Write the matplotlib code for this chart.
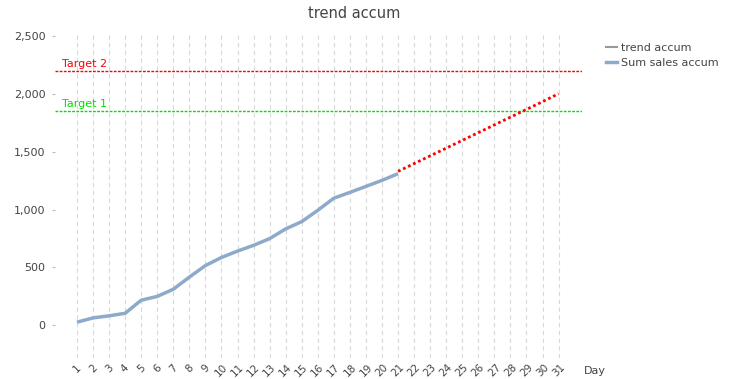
import matplotlib
matplotlib.use("Agg")
import matplotlib.pyplot as plt
from matplotlib.lines import Line2D

days = list(range(1, 32))
sales_days = list(range(1, 22))
sales_accum = [25, 62, 80, 102, 215, 248, 310, 415, 515, 585, 640, 690, 748, 832, 895, 993, 1098, 1148, 1200, 1252, 1310]
trend_days = list(range(21, 32))
trend_accum = [1330, 1397, 1464, 1531, 1598, 1665, 1732, 1799, 1866, 1933, 2002]
target1 = 1855
target2 = 2200
yticks = [0, 500, 1000, 1500, 2000, 2500]
ytick_labels = ["0", "500", "1,000", "1,500", "2,000", "2,500"]

fig = plt.figure(figsize=(7.39, 3.79), dpi=100)
ax = fig.add_axes([55/739, 1-358/379, (582-55)/739, (358-35)/379])

for d in days:
    ax.axvline(d, color="#d9d9d9", lw=0.8, dashes=(4, 3), zorder=0)

ax.axhline(target2, color="#ff0000", lw=1.0, dashes=(2, 1), zorder=1)
ax.axhline(target1, color="#00e000", lw=1.0, dashes=(2, 1), zorder=1)
ax.annotate("Target 2", (0.07, target2), xytext=(0, 1.5), textcoords="offset points",
            color="red", fontsize=8, ha="left", va="bottom")
ax.annotate("Target 1", (0.07, target1), xytext=(0, 1.5), textcoords="offset points",
            color="#00e000", fontsize=8, ha="left", va="bottom")

ax.plot(sales_days, sales_accum, color="#8eaacb", lw=2.5, solid_capstyle="butt", zorder=3)
ax.plot(trend_days, trend_accum, color="red", lw=2.0, linestyle=(0, (1, 1)),
        dash_capstyle="butt", zorder=4)

ax.set_xlim(-0.37, 32.46)
ax.set_ylim(-285, 2510)
ax.set_xticks(days)
ax.set_xticklabels([str(d) for d in days], rotation=45, ha="center", va="top",
                   fontsize=7.5, color="#444444")
ax.set_yticks(yticks)
ax.set_yticklabels(ytick_labels, fontsize=8, color="#444444")
ax.tick_params(axis="x", length=0, pad=3)
ax.tick_params(axis="y", length=2, color="#bbbbbb", pad=5)
for s in ax.spines.values():
    s.set_visible(False)

fig.text(354/739, 1-14/379, "trend accum", ha="center", va="center", fontsize=10.5, color="#444444")
fig.text(584/739, 1-371/379, "Day", ha="left", va="center", fontsize=8, color="#444444")

handles = [Line2D([], [], color="#999999", lw=1.5),
           Line2D([], [], color="#8eaacb", lw=2.5)]
fig.legend(handles, ["trend accum", "Sum sales accum"], loc="upper left",
           bbox_to_anchor=(600/739, 1-37/379), frameon=False, fontsize=8,
           handlelength=1.0, handletextpad=0.4, labelspacing=0.45, borderpad=0,
           labelcolor="#444444")

fig.savefig("out.png", dpi=100)
